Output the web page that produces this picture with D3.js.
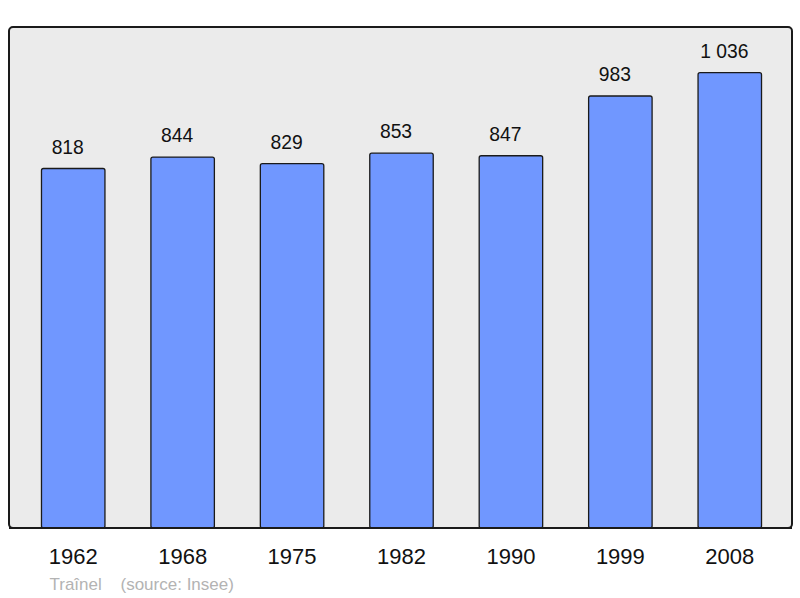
<!DOCTYPE html>
<html>
<head>
<meta charset="utf-8">
<script src="https://cdn.jsdelivr.net/npm/d3@7"></script>
<style>
  body { margin: 0; background: #fff; }
  svg { display: block; font-family: "Liberation Sans", Arial, sans-serif; }
</style>
</head>
<body>
<svg id="chart" width="800" height="598"></svg>
<script>
// population data
const years = ['1962', '1968', '1975', '1982', '1990', '1999', '2008'];
const population = [818, 844, 829, 853, 847, 983, 1036];
const valueLabels = ['818', '844', '829', '853', '847', '983', '1 036'];

const svg = d3.select('#chart');

const x = d3.scaleBand()
    .domain(years)
    .range([18.5, 784.5])
    .paddingInner(0.42)
    .paddingOuter(0.21);

const y = d3.scaleLinear()
    .domain([0, 1140])
    .range([528, 27]);

// plot background
svg.append('rect')
    .attr('x', 9)
    .attr('y', 27)
    .attr('width', 783)
    .attr('height', 501)
    .attr('rx', 4)
    .attr('fill', '#ebebeb')
    .attr('stroke', '#1a1a1a')
    .attr('stroke-width', 2);

// bars
svg.selectAll('rect.bar')
    .data(years)
    .enter()
    .append('rect')
    .attr('class', 'bar')
    .attr('x', d => x(d))
    .attr('y', (d, i) => y(population[i]))
    .attr('width', x.bandwidth())
    .attr('height', (d, i) => y(0) - y(population[i]))
    .attr('rx', 2)
    .attr('fill', '#7097ff')
    .attr('stroke', '#1a1a1a')
    .attr('stroke-width', 1.3);

// redraw bottom edge over bars
svg.append('line')
    .attr('x1', 9).attr('x2', 792)
    .attr('y1', 528).attr('y2', 528)
    .attr('stroke', '#1a1a1a')
    .attr('stroke-width', 2);

// value labels (sit a little left of the bar centre in the original)
svg.selectAll('text.value')
    .data(years)
    .enter()
    .append('text')
    .attr('class', 'value')
    .attr('x', d => x(d) + x.bandwidth() / 2)
    .attr('dx', -5.5)
    .attr('y', (d, i) => y(population[i]) - 15)
    .attr('text-anchor', 'middle')
    .attr('font-size', 19.3)
    .attr('fill', '#111')
    .text((d, i) => valueLabels[i]);

// year labels
const xAxis = d3.axisBottom(x).tickSize(0).tickPadding(0);
const axisG = svg.append('g')
    .attr('transform', 'translate(0,548)')
    .call(xAxis);
axisG.select('.domain').remove();
axisG.selectAll('text')
    .attr('font-size', 22)
    .attr('font-family', '"Liberation Sans", Arial, sans-serif')
    .attr('fill', '#111');

// source note
svg.append('text')
    .attr('x', 49.5)
    .attr('y', 590)
    .attr('font-size', 17)
    .attr('fill', '#b3b3b3')
    .text('Traînel');
svg.append('text')
    .attr('x', 120.5)
    .attr('y', 590)
    .attr('font-size', 17)
    .attr('fill', '#b3b3b3')
    .text('(source: Insee)');
</script>
</body>
</html>
